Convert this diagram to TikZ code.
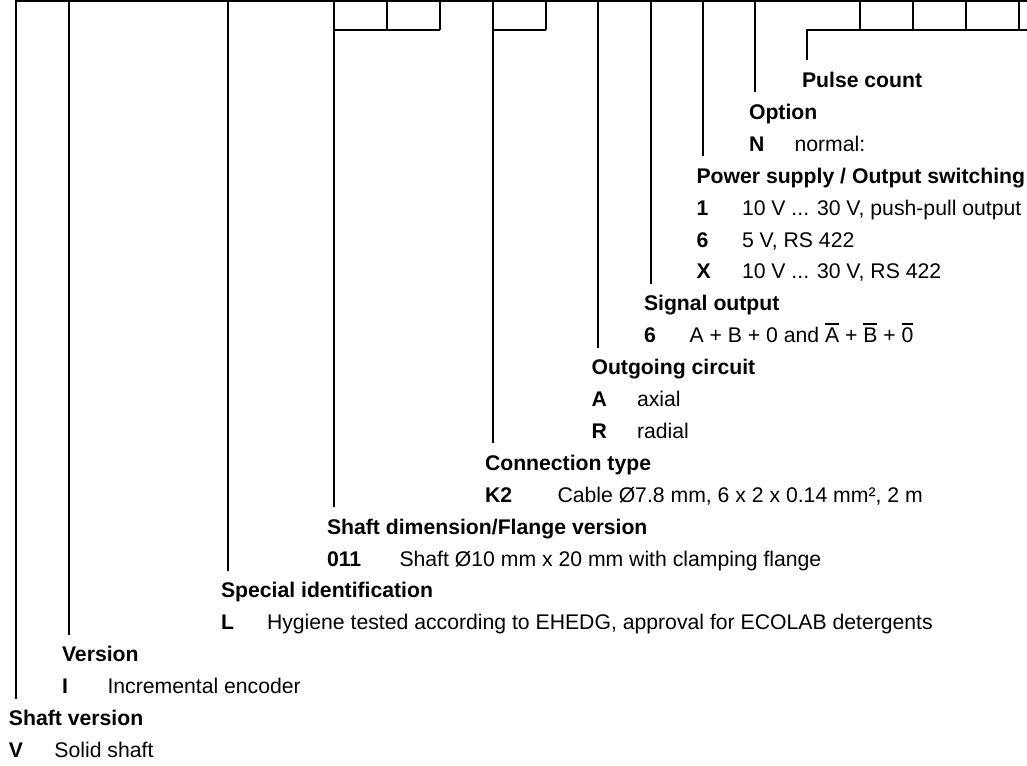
\documentclass[tikz,border=0pt]{standalone}
\usepackage{fontspec}
\setmainfont{Liberation Sans}
\newcommand{\cd}[2][45.5pt]{\makebox[#1][l]{\bfseries #2}}
\newlength\ovlw
\newcommand{\ovl}[1]{\settowidth{\ovlw}{#1}\makebox[0pt][l]{\rule[18pt]{\ovlw}{1.8pt}}#1}
\newcommand{\rw}[1]{87.5+31.9*#1}
\begin{document}
\begin{tikzpicture}[x=1pt,y=-1pt,line width=2pt,
  every node/.style={inner xsep=0pt,inner ysep=0pt,anchor=base west,font=\fontsize{21.2}{25}\selectfont},
  head/.style={font=\fontsize{21.2}{25}\selectfont\bfseries,text height=15pt,text depth=5pt,inner ysep=11pt},
  item/.style={}]
\useasboundingbox (0,0) rectangle (1027,765);
% top coordinates of the leader lines
\coordinate (t20) at (16,0);
\coordinate (t18) at (69,0);
\coordinate (t16) at (228,0);
\coordinate (t14) at (334,0);
\coordinate (t12) at (493,0);
\coordinate (t9) at (598,0);
\coordinate (t7) at (651,0);
\coordinate (t3) at (703,0);
\coordinate (t1) at (755,0);
\coordinate (t0) at (807,30);
% headings
\node[head] (h0) at (801,{\rw{0}}) {Pulse count};
\node[head] (h1) at (748,{\rw{1}}) {Option};
\node[item] (i2) at (748,{\rw{2}}) {\cd{N}normal:};
\node[head] (h3) at (695.5,{\rw{3}}) {Power supply / Output switching};
\node[item] (i4) at (695.5,{\rw{4}}) {\cd{1}10 V ... 30 V, push-pull output};
\node[item] (i5) at (695.5,{\rw{5}}) {\cd{6}5 V, RS 422};
\node[item] (i6) at (695.5,{\rw{6}}) {\cd{X}10 V ... 30 V, RS 422};
\node[head] (h7) at (643,{\rw{7}}) {Signal output};
\node[item] (i8) at (643,{\rw{8}}) {\cd{6}A + B + 0 and \ovl{A} + \ovl{B} + \ovl{0}};
\node[head] (h9) at (590.5,{\rw{9}}) {Outgoing circuit};
\node[item] (i10) at (590.5,{\rw{10}}) {\cd{A}axial};
\node[item] (i11) at (590.5,{\rw{11}}) {\cd{R}radial};
\node[head] (h12) at (484,{\rw{12}}) {Connection type};
\node[item] (i13) at (484,{\rw{13}}) {\cd[72.5pt]{K2}Cable Ø7.8 mm, 6 x 2 x 0.14 mm², 2 m};
\node[head] (h14) at (326,{\rw{14}}) {Shaft dimension/Flange version};
\node[item] (i15) at (326,{\rw{15}}) {\cd[72.5pt]{011}Shaft Ø10 mm x 20 mm with clamping flange};
\node[head] (h16) at (220,{\rw{16}}) {Special identification};
\node[item] (i17) at (220,{\rw{17}}) {\cd[46pt]{L}Hygiene tested according to EHEDG, approval for ECOLAB detergents};
\node[head] (h18) at (61,{\rw{18}}) {Version};
\node[item] (i19) at (61,{\rw{19}}) {\cd{I}Incremental encoder};
\node[head] (h20) at (8,{\rw{20}}) {Shaft version};
\node[item] (i21) at (8,{\rw{21}}) {\cd{V}Solid shaft};
% box row
\draw (16,1) -- (1027,1);
\draw (334,30) -- (440,30);
\draw (387,0) -- (387,30);
\draw (440,0) -- (440,30);
\draw (493,30) -- (546,30);
\draw (546,0) -- (546,30);
\foreach \xx in {860,913,966,1019} \draw (\xx,0) -- (\xx,30);
% leader lines
\foreach \k in {20,18,16,14,12,9,7,3,1} \draw (t\k) -- (t\k |- h\k.north);
\draw (1027,30) -- (t0) -- (t0 |- h0.north);
\end{tikzpicture}
\end{document}
